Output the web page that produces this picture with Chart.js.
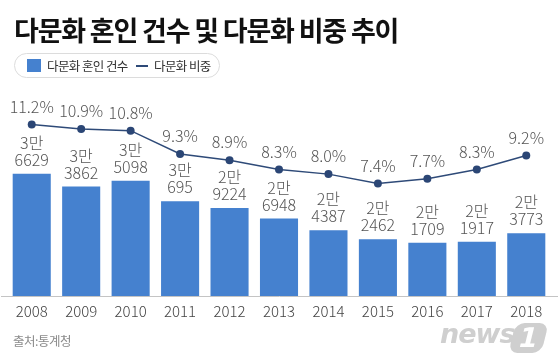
<!DOCTYPE html>
<html>
<head>
<meta charset="utf-8">
<script src="https://cdn.jsdelivr.net/npm/chart.js@4/dist/chart.umd.min.js"></script>
<style>
  html, body { margin:0; padding:0; background:#fff; }
  body { width:560px; height:361px; position:relative; overflow:hidden; font-family:"Noto Sans CJK KR","Noto Sans",sans-serif; }
  #c { position:absolute; left:0; top:0; }
  #title { position:absolute; left:14px; top:10px; font-size:27px; font-weight:700; color:#111; letter-spacing:-1.2px; white-space:nowrap; }
  #legend { position:absolute; left:14px; top:53px; width:206px; height:25px; border:1px solid #dcdcdc; border-radius:13px; box-sizing:border-box; font-size:12.5px; color:#333; white-space:nowrap; letter-spacing:-0.6px; }
  #legend .sq { position:absolute; left:12px; top:5px; width:14px; height:13px; background:#4581CF; }
  #legend .t1 { position:absolute; left:32px; top:2px; }
  #legend .ln { position:absolute; left:121px; top:11px; width:12px; height:2px; background:#2E4A78; }
  #legend .t2 { position:absolute; left:139px; top:2px; }
  #src { position:absolute; left:13px; top:331px; font-size:12.5px; color:#8a8a8a; letter-spacing:-0.5px; }
  #logo { position:absolute; left:440px; top:318px; height:36px; width:110px; }
  #logo .news { position:absolute; left:0; top:0; font-family:"DejaVu Sans",sans-serif; font-size:27px; font-weight:700; font-style:italic; color:#cfcfcf; letter-spacing:-1px; }
  #logo .one { position:absolute; left:72px; top:5px; width:33px; height:30px; background:#cfcfcf; border-radius:9px; transform:skewX(-14deg); color:#fff; font-family:"DejaVu Sans",sans-serif; font-weight:700; font-size:27px; line-height:30px; text-align:center; }
</style>
</head>
<body>
<canvas id="c" width="560" height="361"></canvas>
<div id="title">다문화 혼인 건수 및 다문화 비중 추이</div>
<div id="legend"><div class="sq"></div><div class="t1">다문화 혼인 건수</div><div class="ln"></div><div class="t2">다문화 비중</div></div>
<div id="src">출처:통계청</div>
<div id="logo"><div class="news">news</div><div class="one">1</div></div>
<script>
const years = ['2008','2009','2010','2011','2012','2013','2014','2015','2016','2017','2018'];
const marriages = [36629, 33862, 35098, 30695, 29224, 26948, 24387, 22462, 21709, 21917, 23773];
const shares = [11.2, 10.9, 10.8, 9.3, 8.9, 8.3, 8.0, 7.4, 7.7, 8.3, 9.2];

const FONT = '"Noto Sans CJK KR","Noto Sans",sans-serif';

const labelPlugin = {
  id: 'labels',
  afterDatasetsDraw(chart) {
    const ctx = chart.ctx;
    const area = chart.chartArea;
    ctx.save();
    ctx.strokeStyle = '#c4c4c4';
    ctx.lineWidth = 1;
    ctx.beginPath();
    ctx.moveTo(1, Math.round(area.bottom) + 0.5);
    ctx.lineTo(558, Math.round(area.bottom) + 0.5);
    ctx.stroke();

    ctx.textAlign = 'center';
    ctx.textBaseline = 'middle';
    ctx.fillStyle = '#555';
    ctx.font = '300 16px ' + FONT;
    const barMeta = chart.getDatasetMeta(1);
    barMeta.data.forEach((el, i) => {
      const v = marriages[i];
      const man = Math.floor(v / 10000) + '만';
      const rest = String(v % 10000);
      ctx.fillText(rest, el.x, el.y - 14);
      ctx.fillText(man, el.x, el.y - 31);
    });
    const lineMeta = chart.getDatasetMeta(0);
    lineMeta.data.forEach((el, i) => {
      ctx.fillText(shares[i].toFixed(1) + '%', el.x, el.y - 18);
    });
    ctx.restore();
  }
};

new Chart(document.getElementById('c'), {
  data: {
    labels: years,
    datasets: [
      {
        type: 'line',
        label: '다문화 비중',
        data: shares,
        yAxisID: 'y2',
        borderColor: '#2E4A78',
        borderWidth: 1.5,
        pointRadius: 4,
        pointBackgroundColor: '#2B4675',
        pointBorderColor: '#2B4675',
        pointBorderWidth: 0,
        tension: 0,
        order: 0
      },
      {
        type: 'bar',
        label: '다문화 혼인 건수',
        data: marriages,
        yAxisID: 'y',
        backgroundColor: '#4581CF',
        barPercentage: 0.77,
        categoryPercentage: 1,
        order: 1
      }
    ]
  },
  options: {
    responsive: false,
    animation: false,
    layout: { padding: { left: 7, right: 9, top: 110, bottom: 0 } },
    plugins: { legend: { display: false }, tooltip: { enabled: false } },
    scales: {
      x: {
        grid: { display: false, drawTicks: false },
        border: { display: false },
        ticks: { color: '#444', font: { family: FONT, size: 15, weight: '300' }, padding: 6, maxRotation: 0 },
        afterFit(s) { s.height = 65; }
      },
      y: { display: false, min: 10200, max: 50400 },
      y2: { display: false, position: 'right', min: 0.15, max: 12.13 }
    }
  },
  plugins: [labelPlugin]
});
</script>
</body>
</html>
